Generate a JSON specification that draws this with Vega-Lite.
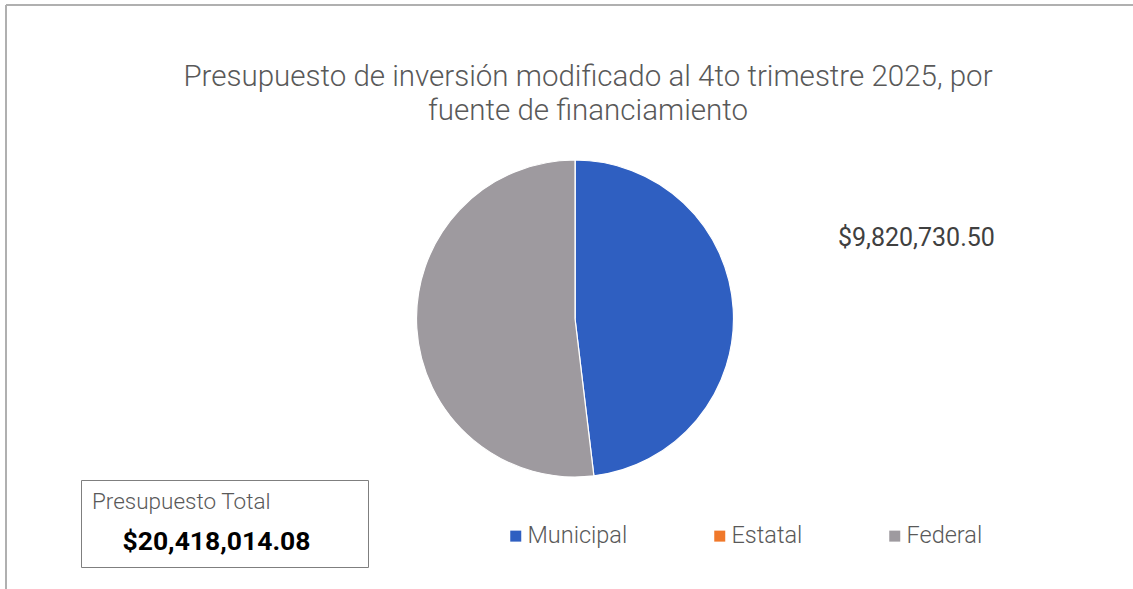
{
  "$schema": "https://vega.github.io/schema/vega-lite/v6.json",
  "width": 1138,
  "height": 627,
  "autosize": {"type": "none"},
  "padding": {"left": 6, "top": 5, "right": -11, "bottom": -43},
  "background": "white",
  "view": {"stroke": "#b0b0b0", "strokeWidth": 2, "strokeDash": [1138, 1765, 627, 0]},
  "config": {"font": "Roboto"},
  "title": {
    "text": ["Presupuesto de inversión modificado al 4to trimestre 2025, por", "fuente de financiamiento"],
    "font": "Roboto",
    "fontSize": 29.5,
    "fontWeight": 300,
    "color": "#595959",
    "lineHeight": 34,
    "anchor": "middle",
    "frame": "group",
    "dx": 13,
    "dy": 121,
    "offset": 0
  },
  "datasets": {
    "fuentes": [
      {"fuente": "Municipal", "monto": 9820730.50},
      {"fuente": "Estatal", "monto": 0},
      {"fuente": "Federal", "monto": 10597283.58}
    ],
    "total": [
      {"caja": "$20,418,014.08"}
    ]
  },
  "layer": [
    {
      "data": {"name": "fuentes"},
      "mark": {"type": "arc", "outerRadius": 158.5, "stroke": "white", "strokeWidth": 1.2},
      "encoding": {
        "theta": {"field": "monto", "type": "quantitative", "stack": true},
        "order": {"field": "fuente", "type": "nominal", "sort": "descending"},
        "color": {
          "field": "fuente",
          "type": "nominal",
          "scale": {"domain": ["Municipal", "Estatal", "Federal"], "range": ["#2F5FC1", "#F0782A", "#9E9A9F"]},
          "legend": {
            "orient": "none",
            "legendX": 498,
            "legendY": 519,
            "direction": "horizontal",
            "columns": 3,
            "title": null,
            "symbolType": "square",
            "symbolSize": 121,
            "symbolStrokeWidth": 0,
            "labelFont": "Roboto",
            "labelFontSize": 23.5,
            "labelFontWeight": 300,
            "labelColor": "#595959",
            "labelOffset": 0,
            "columnPadding": 80
          }
        }
      }
    },
    {
      "data": {"name": "fuentes"},
      "transform": [{"filter": "datum.fuente === 'Municipal'"}],
      "mark": {"type": "text", "radius": 342, "dy": -60, "fontSize": 25, "color": "#404040", "font": "Roboto"},
      "encoding": {
        "theta": {"field": "monto", "type": "quantitative", "stack": true},
        "text": {"field": "monto", "type": "quantitative", "format": "$,.2f"}
      }
    },
    {
      "data": {"name": "total"},
      "mark": {"type": "point", "opacity": 0},
      "encoding": {
        "shape": {
          "field": "caja",
          "type": "nominal",
          "legend": {
            "orient": "none",
            "legendX": 75,
            "legendY": 475,
            "title": "Presupuesto Total",
            "titleFont": "Roboto",
            "titleFontSize": 22.5,
            "titleFontWeight": 300,
            "titleColor": "#595959",
            "titlePadding": 15,
            "labelFont": "Roboto",
            "labelFontSize": 26.5,
            "labelFontWeight": "bold",
            "labelColor": "#000000",
            "labelOffset": -247,
            "labelLimit": 400,
            "symbolSize": 1,
            "symbolOffset": 251,
            "symbolOpacity": 0,
            "symbolStrokeWidth": 0,
            "strokeColor": "#7f7f7f",
            "padding": 11
          }
        }
      }
    }
  ]
}
